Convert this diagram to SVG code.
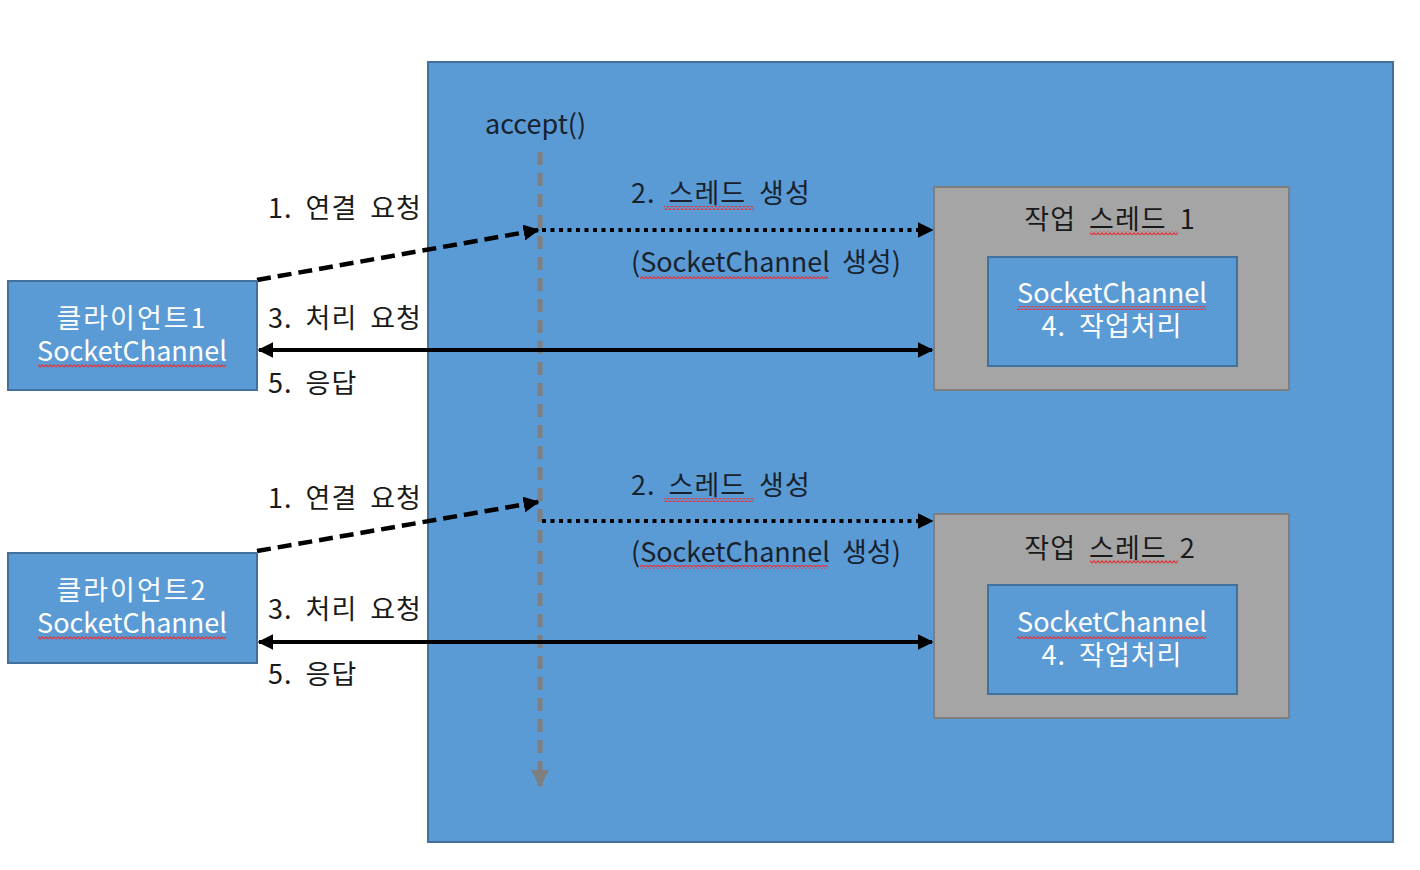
<svg xmlns="http://www.w3.org/2000/svg" width="1420" height="870" viewBox="0 0 1420 870">
<defs>
<style>
.t{font-family:"Noto Sans CJK KR","Noto Sans",sans-serif;font-size:27px;word-spacing:6px}
.ko{letter-spacing:1px}
.kw{letter-spacing:2px}
.w{fill:#ffffff}
.k{fill:#1a1a1a}
.n{fill:#18222e}
.blue{fill:#5b9bd5;stroke:#41719c;stroke-width:2}
.gray{fill:#a5a5a5;stroke:#7f7f7f;stroke-width:2}
.dash{stroke:#000;stroke-width:4.5;stroke-dasharray:14 7;fill:none}
.dot{stroke:#000;stroke-width:4;stroke-dasharray:4 4.5;fill:none}
.solid{stroke:#000;stroke-width:4;fill:none}
.life{stroke:#7f7f7f;stroke-width:5;stroke-dasharray:13 8;fill:none}
.sq{fill:url(#sq)}
</style>
<marker id="ah" viewBox="0 0 10 10" refX="9" refY="5" markerWidth="16" markerHeight="16" markerUnits="userSpaceOnUse" orient="auto-start-reverse"><path d="M0,0 L10,5 L0,10 Z" fill="#000"/></marker>
<marker id="ahg" viewBox="0 0 10 10" refX="9" refY="5" markerWidth="18" markerHeight="18" markerUnits="userSpaceOnUse" orient="auto"><path d="M0,0 L10,5 L0,10 Z" fill="#7f7f7f"/></marker>
<pattern id="sq" width="4" height="4" patternUnits="userSpaceOnUse"><path d="M0,3.2 L2,0.8 L4,3.2" stroke="#e0353b" stroke-width="1.2" fill="none"/></pattern>
</defs>
<rect width="1420" height="870" fill="#fff"/>

<g id="server">
<rect class="blue" x="428" y="62" width="965" height="780"/>
<text class="t n" x="485" y="134">accept()</text>
</g>

<g id="connectors">
<line class="life" x1="540" y1="152" x2="540" y2="786" marker-end="url(#ahg)"/>
<line class="dash" x1="257" y1="280" x2="538" y2="230" marker-end="url(#ah)"/>
<line class="dot" x1="542" y1="230" x2="932" y2="230" marker-end="url(#ah)"/>
<line class="solid" x1="259" y1="350" x2="932" y2="350" marker-start="url(#ah)" marker-end="url(#ah)"/>
<line class="dash" x1="257" y1="551" x2="538" y2="502" marker-end="url(#ah)"/>
<line class="dot" x1="542" y1="521" x2="932" y2="521" marker-end="url(#ah)"/>
<line class="solid" x1="259" y1="642" x2="932" y2="642" marker-start="url(#ah)" marker-end="url(#ah)"/>
</g>

<g id="labels">
<text class="t ko k" x="268" y="218">1. 연결 요청</text>
<text class="t ko k" x="268" y="328">3. 처리 요청</text>
<text class="t ko k" x="268" y="393">5. 응답</text>
<text class="t ko n" x="631" y="203">2. 스레드 생성</text>
<rect class="sq" x="664" y="206" width="90" height="4"/>
<text class="t n" x="631" y="272">(SocketChannel 생성)</text>
<rect class="sq" x="640" y="275" width="188" height="4"/>
<text class="t ko k" x="268" y="508">1. 연결 요청</text>
<text class="t ko k" x="268" y="619">3. 처리 요청</text>
<text class="t ko k" x="268" y="684">5. 응답</text>
<text class="t ko n" x="631" y="495">2. 스레드 생성</text>
<rect class="sq" x="664" y="498" width="90" height="4"/>
<text class="t n" x="631" y="562">(SocketChannel 생성)</text>
<rect class="sq" x="640" y="565" width="188" height="4"/>
</g>

<g id="client1">
<rect class="blue" x="8" y="281" width="249" height="109"/>
<text class="t kw w" x="132" y="328" text-anchor="middle">클라이언트1</text>
<text class="t w" x="132" y="361" text-anchor="middle">SocketChannel</text>
<rect class="sq" x="38" y="364" width="188" height="4"/>
</g>

<g id="client2">
<rect class="blue" x="8" y="553" width="249" height="110"/>
<text class="t kw w" x="132" y="600" text-anchor="middle">클라이언트2</text>
<text class="t w" x="132" y="633" text-anchor="middle">SocketChannel</text>
<rect class="sq" x="38" y="636" width="188" height="4"/>
</g>

<g id="worker1">
<rect class="gray" x="934" y="187" width="355" height="203"/>
<text class="t ko k" x="1110" y="229" text-anchor="middle">작업 스레드 1</text>
<rect class="sq" x="1090" y="231" width="88" height="4"/>
<rect class="blue" x="988" y="257" width="249" height="109"/>
<text class="t w" x="1112" y="303" text-anchor="middle">SocketChannel</text>
<rect class="sq" x="1017" y="306" width="189" height="4"/>
<text class="t ko w" x="1112" y="336" text-anchor="middle">4. 작업처리</text>
</g>

<g id="worker2">
<rect class="gray" x="934" y="514" width="355" height="204"/>
<text class="t ko k" x="1110" y="558" text-anchor="middle">작업 스레드 2</text>
<rect class="sq" x="1090" y="560" width="88" height="4"/>
<rect class="blue" x="988" y="585" width="249" height="109"/>
<text class="t w" x="1112" y="632" text-anchor="middle">SocketChannel</text>
<rect class="sq" x="1017" y="635" width="189" height="4"/>
<text class="t ko w" x="1112" y="665" text-anchor="middle">4. 작업처리</text>
</g>
</svg>
